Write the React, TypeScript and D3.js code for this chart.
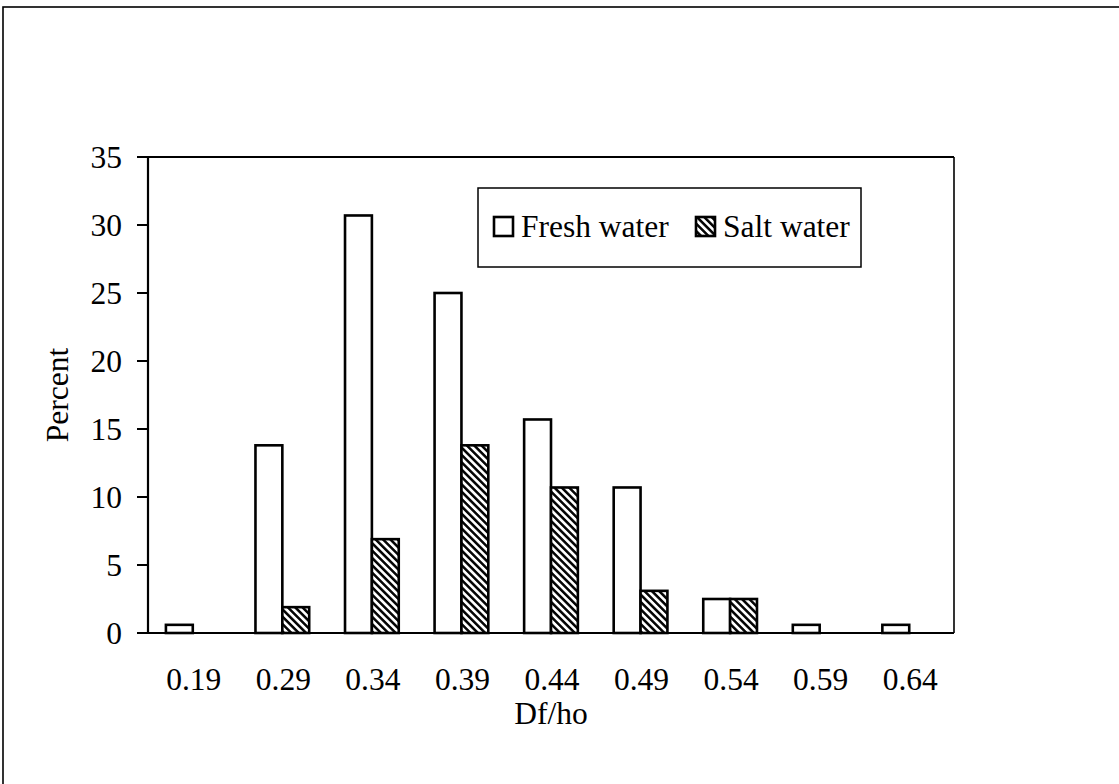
import React from "react";
import * as d3 from "d3";

const categories = ["0.19", "0.29", "0.34", "0.39", "0.44", "0.49", "0.54", "0.59", "0.64"];
const seriesNames = ["Fresh water", "Salt water"];
const freshWater = [0.6, 13.8, 30.7, 25.0, 15.7, 10.7, 2.5, 0.6, 0.6];
const saltWater = [0, 1.9, 6.9, 13.8, 10.7, 3.1, 2.5, 0, 0];
const yTicks = [0, 5, 10, 15, 20, 25, 30, 35];

const W = 1119;
const H = 784;
const plot = { left: 148, right: 954, top: 157, bottom: 633 };
const FONT = "'Liberation Serif', 'Times New Roman', serif";
const FS = 31.5;

export default function App() {
  const x = d3.scaleBand<string>().domain(categories).range([plot.left, plot.right]).padding(0);
  const bw = x.bandwidth();
  const x1 = d3.scaleBand<string>().domain(seriesNames).range([bw * 0.2, bw * 0.8]).padding(0);
  const y = d3.scaleLinear().domain([0, 35]).range([plot.bottom, plot.top]);

  const values = [freshWater, saltWater];
  const fills = ["#fff", "url(#hatch)"];

  return (
    <svg width={W} height={H} style={{ position: "absolute", left: 0, top: 0, background: "#fff" }}>
      <defs>
        <pattern id="hatch" patternUnits="userSpaceOnUse" width={5.2} height={10} patternTransform="rotate(-45)">
          <rect width={5.2} height={10} fill="#fff" />
          <line x1={1.3} y1={0} x2={1.3} y2={10} stroke="#000" strokeWidth={2.5} />
        </pattern>
      </defs>
      {/* outer frame */}
      <rect x={3} y={7} width={1300} height={1000} fill="none" stroke="#000" strokeWidth={1.6} />

      {/* plot frame top & right */}
      <line x1={plot.left} x2={plot.right} y1={plot.top} y2={plot.top} stroke="#000" strokeWidth={2} />
      <line x1={plot.right} x2={plot.right} y1={plot.top} y2={plot.bottom} stroke="#000" strokeWidth={1.6} />

      {/* bars */}
      {categories.map((c, i) => (
        <g key={c} transform={`translate(${x(c)},0)`}>
          {seriesNames.map((s, si) => {
            const v = values[si][i];
            if (v <= 0) return null;
            return (
              <rect
                key={s}
                x={x1(s)}
                y={y(v)}
                width={x1.bandwidth()}
                height={y(0) - y(v)}
                fill={fills[si]}
                stroke="#000"
                strokeWidth={2.6}
              />
            );
          })}
        </g>
      ))}

      {/* axes */}
      <line x1={plot.left} x2={plot.left} y1={plot.top} y2={plot.bottom} stroke="#000" strokeWidth={2.2} />
      <line x1={plot.left} x2={plot.right} y1={plot.bottom} y2={plot.bottom} stroke="#000" strokeWidth={2.2} />

      {yTicks.map((t) => (
        <g key={t}>
          <line x1={plot.left - 11} x2={plot.left} y1={y(t)} y2={y(t)} stroke="#000" strokeWidth={2} />
          <text x={122} y={y(t)} dy="0.34em" textAnchor="end" fontFamily={FONT} fontSize={FS} fill="#000">
            {t}
          </text>
        </g>
      ))}

      {categories.map((c) => (
        <text key={c} x={(x(c) as number) + bw / 2 + 1} y={690} textAnchor="middle" fontFamily={FONT} fontSize={FS} fill="#000">
          {c}
        </text>
      ))}

      <text x={(plot.left + plot.right) / 2} y={724} textAnchor="middle" fontFamily={FONT} fontSize={FS} fill="#000">
        Df/ho
      </text>
      <text
        transform={`translate(68,${(plot.top + plot.bottom) / 2}) rotate(-90)`}
        textAnchor="middle"
        fontFamily={FONT}
        fontSize={FS}
        fill="#000"
      >
        Percent
      </text>

      {/* legend */}
      <rect x={478} y={188} width={383} height={79} fill="#fff" stroke="#000" strokeWidth={1.5} />
      <rect x={494} y={217} width={19} height={19} fill="#fff" stroke="#000" strokeWidth={2.6} />
      <text x={521} y={237} fontFamily={FONT} fontSize={FS} fill="#000">
        {seriesNames[0]}
      </text>
      <rect x={696} y={217} width={19} height={19} fill="url(#hatch)" stroke="#000" strokeWidth={2.6} />
      <text x={723} y={237} fontFamily={FONT} fontSize={FS} fill="#000">
        {seriesNames[1]}
      </text>
    </svg>
  );
}
